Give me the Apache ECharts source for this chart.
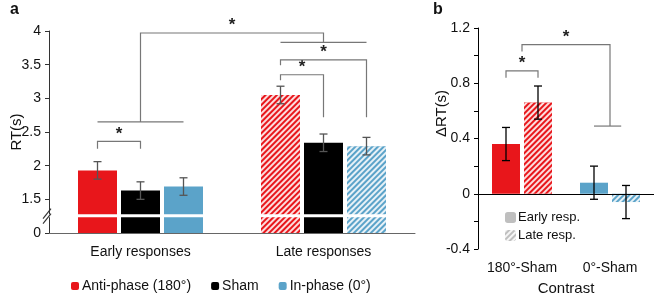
<!DOCTYPE html>
<html>
<head>
<meta charset="utf-8">
<script src="https://cdn.jsdelivr.net/npm/echarts@6/dist/echarts.min.js"></script>
<style>
  html, body { margin: 0; padding: 0; background: #fff; }
  #chart { width: 656px; height: 296px; }
</style>
</head>
<body>
<div id="chart"></div>
<script>
// panel a: RT per condition
const catsA = ['Early responses', 'Late responses'];
const namesA = ['Anti-phase (180°)', 'Sham', 'In-phase (0°)'];
const antiRT = [1.93, 3.05];
const shamRT = [1.63, 2.34];
const inRT = [1.69, 2.29];
const antiErr = [0.13, 0.13];
const shamErr = [0.13, 0.13];
const inErr = [0.13, 0.13];
const yLabelsA = {1: '0', 1.5: '1.5', 2: '2', 2.5: '2.5', 3: '3', 3.5: '3.5', 4: '4'};

// panel b: delta RT vs sham
const catsB = ['180°-Sham', '0°-Sham'];
const namesB = ['Early resp.', 'Late resp.'];
const earlyD = [0.36, 0.08];
const lateD = [0.66, -0.06];
const earlyErr = [0.12, 0.12];
const lateErr = [0.12, 0.12];
const yLabelsB = ['-0.4', '0', '0.4', '0.8', '1.2'];

// brackets: [cat1, bar1, cat2, bar2, top, leg1 bottom, leg2 bottom]
const bracketsA = [
  [0, 0, 0, 1, 2.36, 2.25, 2.25],
  [1, 0, 1, 1, 3.35, 3.27, 2.72],
  [1, 0, 1, 2, 3.57, 3.49, 2.72],
  [0, 1, 1, 1, 3.97, 2.65, 3.83]
];
// spans: [cat, barFrom, barTo, y]
const spansA = [[0, 0, 2, 2.65], [1, 0, 2, 3.83]];
const bracketsB = [
  [0, 0, 0, 1, 0.89, 0.84, 0.84],
  [0, 0.5, 1, 0.5, 1.08, 1.03, 0.49]
];
const spansB = [[1, 0, 0.85, 0.49]];

const RED = '#e8161b', BLACK = '#000', BLUE = '#5ba3c9', GRAY = '#bfbfbf';
const FONT = 'Liberation Sans, Arial, sans-serif';
const BW_A = 39, GAP_A = 4, BW_B = 28, GAP_B = 4;

const hatch = {
  symbol: 'rect', symbolSize: 1,
  dashArrayX: [1, 0], dashArrayY: [1.8, 1.1],
  rotation: -Math.PI / 4,
  color: 'rgba(255,255,255,0.85)'
};

function offA(i) { return (i - 1) * (BW_A + GAP_A); }
function offB(i) { return (i - 0.5) * (BW_B + GAP_B); }

function errSeries(gi, vals, errs, barIdx, offFn, color) {
  return {
    type: 'custom', xAxisIndex: gi, yAxisIndex: gi, z: 5, silent: true,
    data: vals.map((v, i) => [i, v, errs[i]]),
    renderItem: function (params, api) {
      const c = api.value(0), v = api.value(1), e = api.value(2);
      const x = api.coord([c, v])[0] + offFn(barIdx);
      const hi = api.coord([c, v + e])[1], lo = api.coord([c, v - e])[1];
      const st = { stroke: color, lineWidth: 1.3 };
      return { type: 'group', children: [
        { type: 'line', shape: { x1: x, y1: hi, x2: x, y2: lo }, style: st },
        { type: 'line', shape: { x1: x - 4, y1: hi, x2: x + 4, y2: hi }, style: st },
        { type: 'line', shape: { x1: x - 4, y1: lo, x2: x + 4, y2: lo }, style: st }
      ] };
    }
  };
}

function bracketSeries(gi, brs, spans, offFn) {
  return {
    type: 'custom', xAxisIndex: gi, yAxisIndex: gi, z: 6, silent: true,
    data: brs.map((b, i) => [i, b[4]]),
    renderItem: function (params, api) {
      const b = brs[params.dataIndex];
      const x1 = api.coord([b[0], b[4]])[0] + offFn(b[1]);
      const x2 = api.coord([b[2], b[4]])[0] + offFn(b[3]);
      const yt = api.coord([b[0], b[4]])[1];
      const y1 = api.coord([b[0], b[5]])[1];
      const y2 = api.coord([b[2], b[6]])[1];
      const st = { stroke: '#777', lineWidth: 1.2 };
      const ch = [
        { type: 'polyline', shape: { points: [[x1, y1], [x1, yt], [x2, yt], [x2, y2]] }, style: Object.assign({ fill: null }, st) },
        { type: 'text', style: { text: '*', x: (x1 + x2) / 2, y: yt + 1, fill: '#222', font: 'bold 17px ' + FONT, align: 'center', verticalAlign: 'bottom' } }
      ];
      if (params.dataIndex === 0) {
        spans.forEach(function (s) {
          const sy = api.coord([s[0], s[3]])[1];
          const sx = api.coord([s[0], s[3]])[0];
          ch.push({ type: 'line', shape: { x1: sx + offFn(s[1]), y1: sy, x2: sx + offFn(s[2]), y2: sy }, style: st });
        });
      }
      return { type: 'group', children: ch };
    }
  };
}

// axis break on panel a
const breakSeries = {
  type: 'custom', xAxisIndex: 0, yAxisIndex: 0, z: 8, silent: true,
  data: [[0, 1.26]],
  renderItem: function (params, api) {
    const cs = params.coordSys;
    const ya = api.coord([0, 1.28])[1], yb = api.coord([0, 1.235])[1];
    const yc = (ya + yb) / 2;
    const st = { stroke: '#333', lineWidth: 1.2 };
    return { type: 'group', children: [
      { type: 'rect', shape: { x: cs.x - 3, y: ya, width: cs.width + 3, height: yb - ya }, style: { fill: '#fff' } },
      { type: 'line', shape: { x1: cs.x - 6, y1: yc + 3, x2: cs.x + 2, y2: yc - 7 }, style: st },
      { type: 'line', shape: { x1: cs.x - 6, y1: yc + 8, x2: cs.x + 2, y2: yc - 2 }, style: st }
    ] };
  }
};

const chart = echarts.init(document.getElementById('chart'), null, { renderer: 'canvas' });

const option = {
  animation: false,
  textStyle: { fontFamily: FONT },
  title: [
    { text: 'a', left: 5, top: -3, textStyle: { fontSize: 16, fontWeight: 'bold', color: '#111', fontFamily: FONT } },
    { text: 'b', left: 428, top: -3, textStyle: { fontSize: 16, fontWeight: 'bold', color: '#111', fontFamily: FONT } }
  ],
  legend: [
    {
      data: namesA, left: 66, top: 274, itemWidth: 8, itemHeight: 8, itemGap: 20,
      textStyle: { fontSize: 14, color: '#111', fontFamily: FONT, padding: [0, 0, 0, -2] }
    },
    {
      data: namesB, left: 500, top: 206, orient: 'vertical', itemWidth: 11, itemHeight: 11, itemGap: 5,
      textStyle: { fontSize: 13, color: '#111', fontFamily: FONT, padding: [0, 0, 0, -3] }
    }
  ],
  grid: [
    { left: 49, top: 31, right: 241, bottom: 63, containLabel: false, outerBoundsMode: 'none' },
    { left: 478, top: 28, right: 2, bottom: 47, containLabel: false, outerBoundsMode: 'none' }
  ],
  xAxis: [
    {
      type: 'category', gridIndex: 0, data: catsA,
      axisLine: { lineStyle: { color: '#666' } },
      axisTick: { show: false },
      axisLabel: { fontSize: 14, color: '#111', margin: 12 }
    },
    {
      type: 'category', gridIndex: 1, data: catsB,
      name: 'Contrast', nameLocation: 'middle', nameGap: 32, nameMoveOverlap: false,
      nameTextStyle: { fontSize: 15, color: '#111' },
      axisLine: { show: false, onZero: false },
      axisTick: { show: false },
      axisLabel: { fontSize: 14, color: '#111', margin: 12, interval: 0 }
    }
  ],
  yAxis: [
    {
      type: 'value', gridIndex: 0, min: 1, max: 4, interval: 0.5,
      name: 'RT(s)', nameLocation: 'middle', nameGap: 25, nameMoveOverlap: false,
      nameTextStyle: { fontSize: 15, color: '#111' },
      axisLine: { show: true, lineStyle: { color: '#333' } },
      axisTick: { show: true, length: 4, lineStyle: { color: '#333' } },
      splitLine: { show: false },
      axisLabel: { fontSize: 14, color: '#111', margin: 8, formatter: v => yLabelsA[v] || '' }
    },
    {
      type: 'value', gridIndex: 1, min: -0.4, max: 1.2, interval: 0.4,
      name: 'ΔRT(s)', nameLocation: 'middle', nameGap: 29, nameMoveOverlap: false,
      nameTextStyle: { fontSize: 15, color: '#111', padding: [0, 0, 0, 50] },
      axisLine: { show: true, lineStyle: { color: '#000' } },
      axisTick: { show: true, length: 4, lineStyle: { color: '#000' } },
      minorTick: { show: true, splitNumber: 2, length: 4, lineStyle: { color: '#000' } },
      splitLine: { show: false },
      axisLabel: { fontSize: 14, color: '#111', margin: 8, formatter: v => yLabelsB[Math.round((v + 0.4) / 0.4)] }
    }
  ],
  series: [
    {
      name: namesA[0], type: 'bar', xAxisIndex: 0, yAxisIndex: 0,
      barWidth: BW_A, barGap: (GAP_A / BW_A * 100) + '%',
      itemStyle: { color: RED },
      data: antiRT.map((v, i) => i === 1 ? { value: v, itemStyle: { decal: hatch } } : v)
    },
    {
      name: namesA[1], type: 'bar', xAxisIndex: 0, yAxisIndex: 0,
      barWidth: BW_A, barGap: (GAP_A / BW_A * 100) + '%',
      itemStyle: { color: BLACK },
      data: shamRT
    },
    {
      name: namesA[2], type: 'bar', xAxisIndex: 0, yAxisIndex: 0,
      barWidth: BW_A, barGap: (GAP_A / BW_A * 100) + '%',
      itemStyle: { color: BLUE },
      data: inRT.map((v, i) => i === 1 ? { value: v, itemStyle: { decal: hatch } } : v)
    },
    {
      name: namesB[0], type: 'bar', xAxisIndex: 1, yAxisIndex: 1,
      barWidth: BW_B, barGap: (GAP_B / BW_B * 100) + '%',
      itemStyle: { color: GRAY },
      data: earlyD.map((v, i) => ({ value: v, itemStyle: { color: i === 0 ? RED : BLUE } })),
      markLine: {
        silent: true, symbol: 'none', label: { show: false },
        lineStyle: { color: '#000', type: 'solid', width: 1 },
        data: [{ yAxis: 0 }]
      }
    },
    {
      name: namesB[1], type: 'bar', xAxisIndex: 1, yAxisIndex: 1,
      barWidth: BW_B, barGap: (GAP_B / BW_B * 100) + '%',
      itemStyle: { color: GRAY, decal: hatch },
      data: lateD.map((v, i) => ({ value: v, itemStyle: { color: i === 0 ? RED : BLUE, decal: hatch } }))
    },
    errSeries(0, antiRT, antiErr, 0, offA, '#555'),
    errSeries(0, shamRT, shamErr, 1, offA, '#555'),
    errSeries(0, inRT, inErr, 2, offA, '#555'),
    errSeries(1, earlyD, earlyErr, 0, offB, '#000'),
    errSeries(1, lateD, lateErr, 1, offB, '#000'),
    bracketSeries(0, bracketsA, spansA, offA),
    bracketSeries(1, bracketsB, spansB, offB),
    breakSeries
  ]
};

option && chart.setOption(option);
</script>
</body>
</html>
